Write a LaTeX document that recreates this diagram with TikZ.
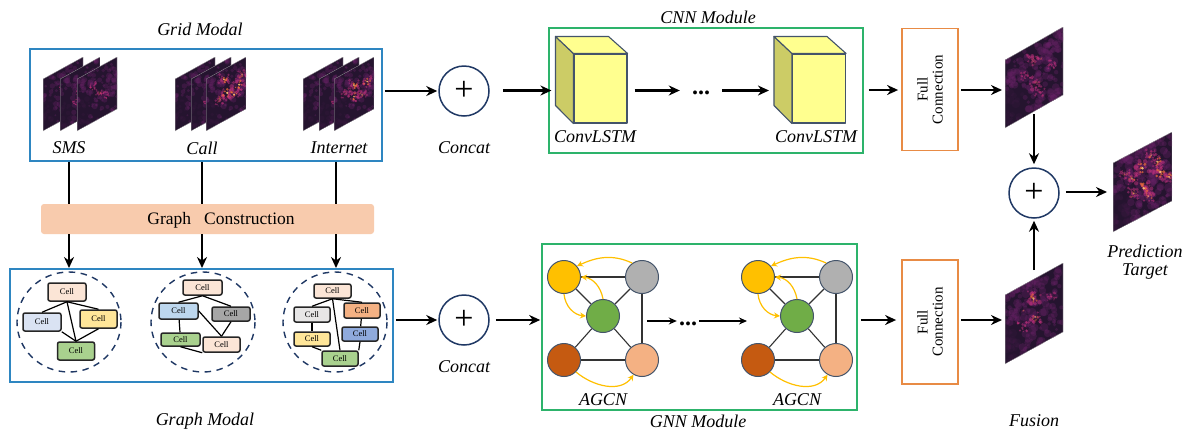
\documentclass[tikz,border=0pt]{standalone}
\usepackage{fontspec}
\usepackage{graphicx}
\setmainfont{Liberation Serif}
\usetikzlibrary{arrows.meta,calc}
\definecolor{blueb}{HTML}{2E86C1}
\definecolor{greenb}{HTML}{2DB36B}
\definecolor{orangeb}{HTML}{E88B45}
\definecolor{navy}{HTML}{1F3864}
\definecolor{slateb}{HTML}{44546A}
\definecolor{peach}{HTML}{FBE5D6}
\definecolor{ygold}{HTML}{FFC000}
\definecolor{hbase}{HTML}{25142F}
\definecolor{hmid}{HTML}{6A2268}
\definecolor{hhot}{HTML}{C0307C}
\definecolor{hfire}{HTML}{F0703A}
\definecolor{hcore}{HTML}{FCC873}
\definecolor{cubefront}{HTML}{FFFF8F}
\definecolor{cubeside}{HTML}{CCCC66}
\definecolor{ngreen}{HTML}{70AD47}
\definecolor{nbrown}{HTML}{C55A11}
\definecolor{npeach}{HTML}{F4B183}
\definecolor{ngrey}{HTML}{B0B0B0}
\definecolor{cblue}{HTML}{DAE3F3}
\definecolor{cblue2}{HTML}{BDD7EE}
\definecolor{cblue3}{HTML}{8FAADC}
\definecolor{cyel}{HTML}{FFE699}
\definecolor{cgrn}{HTML}{A9D18E}
\definecolor{cgry}{HTML}{A6A6A6}
\definecolor{cgry2}{HTML}{E7E6E6}
\definecolor{barfill}{HTML}{F8CBAD}
\tikzset{
  x=1pt,y=-1pt,
  lab/.style={font=\fontsize{18}{20}\selectfont\itshape,inner sep=0pt},
  arr/.style={line width=2.7pt,-{Stealth[length=11pt,width=10pt]}},
  plainline/.style={line width=2.7pt},
  thinarr/.style={line width=1.3pt,-{Stealth[length=8pt,width=7pt]}},
  modalbox/.style={draw=blueb,line width=1.6pt,inner sep=0pt},
  modbox/.style={draw=greenb,line width=1.6pt,inner sep=0pt},
  fcbox/.style={draw=orangeb,line width=1.8pt,inner sep=0pt,minimum width=56pt},
  fctext/.style={font=\fontsize{15}{18}\selectfont,inner sep=0pt},
  plusc/.style={draw=navy,line width=1.5pt,circle,minimum size=50pt,inner sep=0pt,font=\fontsize{34}{34}\selectfont},
  ring/.style={draw=navy,line width=1.4pt,dash pattern=on 6.5pt off 5.5pt},
  cellb/.style={draw=black!85,line width=1.5pt,rounded corners=2pt,inner sep=0pt,font=\fontsize{8.5}{9}\selectfont},
  edgeg/.style={draw=black,line width=1.2pt},
  cubef/.style={draw=slateb,line width=1.1pt,fill=#1,line join=round},
  gn/.style={draw=slateb,line width=1pt,circle,minimum size=33pt,inner sep=0pt,fill=#1},
  gedge/.style={draw=black!80,line width=1.1pt},
  yarr/.style={draw=ygold,line width=1.2pt,-{Stealth[length=6pt,width=6pt]}},
  dotsn/.style={font=\bfseries\fontsize{24}{24}\selectfont,inner sep=0pt},
}
% \heatmap{ox}{oy}{ux}{uy}{vy}{seed}{number of base blobs}{hot list s/t/r/f}
\newcommand{\heatmap}[8]{%
  \begin{scope}
    \clip (#1,#2) -- ++(#3,#4) -- ++(0,#5) -- ++(-#3,-#4) -- cycle;
    \fill[hbase] (#1,#2) -- ++(#3,#4) -- ++(0,#5) -- ++(-#3,-#4) -- cycle;
    \pgfmathsetseed{#6}
    \foreach \bi in {1,...,#7}{
      \pgfmathsetmacro{\blobS}{rnd}
      \pgfmathsetmacro{\blobT}{rnd}
      \pgfmathsetmacro{\blobR}{(1.5+3*rnd)*#3/58}
      \pgfmathsetmacro{\blobO}{(\blobS<0.3 && \blobT>0.45)?0.08:0.33}
      \fill[hmid,opacity=\blobO] ({#1+\blobS*#3},{#2+\blobS*#4+\blobT*#5}) circle (\blobR);
    }
    \foreach \hotS/\hotT/\hotR/\hotF in {#8}{
      \pgfmathsetmacro{\hotX}{#1+\hotS*#3}
      \pgfmathsetmacro{\hotY}{#2+\hotS*#4+\hotT*#5}
      \foreach \ki in {1,...,16}{
        \fill[hhot,opacity=.5] ({\hotX+(rnd-.5)*3.2*\hotR},{\hotY+(rnd-.5)*3.2*\hotR}) circle ({(.22+.3*rnd)*\hotR});
      }
      \foreach \ki in {1,...,7}{
        \fill[hfire,opacity={.7*\hotF}] ({\hotX+(rnd-.5)*1.9*\hotR},{\hotY+(rnd-.5)*1.9*\hotR}) circle ({(.15+.2*rnd)*\hotR});
      }
      \fill[hcore,opacity={.9*\hotF}] (\hotX,\hotY) circle ({.28*\hotR});
    }
    \draw[black!35,line width=.5pt] (#1,#2) -- ++(#3,#4) -- ++(0,#5) -- ++(-#3,-#4) -- cycle;
  \end{scope}
}
\newcommand{\heatstack}[4]{% x1,x2,x3,hot list for the front
  \heatmap{#1}{79}{40}{-22}{52}{11}{100}{.5/.4/2/0,.6/.6/2/0}
  \heatmap{#2}{79}{40}{-22}{52}{12}{100}{.5/.45/2/0,.4/.6/2/0}
  \heatmap{#3}{79}{40}{-22}{52}{13}{130}{#4}
}
\newcommand{\cube}[2]{% name, x
  \node[cubef=cubefront,minimum width=53pt,minimum height=69pt,inner sep=0pt] (#1) at (#2,88.5) {};
  \draw[cubef=cubeside] (#1.north west) -- ++(-18,-17) -- ++(0,69) -- (#1.south west) -- cycle;
  \draw[cubef=cubefront] (#1.north west) -- ++(-18,-17) -- ++(53,0) -- (#1.north east) -- cycle;
}
\newcommand{\gnnblock}[2]{% prefix, dx
  \node[gn=ygold] (#1y) at (564+#2,277) {};
  \node[gn=ngrey] (#1a) at (642+#2,277) {};
  \node[gn=ngreen] (#1g) at (603+#2,316) {};
  \node[gn=nbrown] (#1b) at (564+#2,360) {};
  \node[gn=npeach] (#1p) at (642+#2,360) {};
  \draw[gedge] (#1y) -- (#1a);
  \draw[gedge] (#1y) -- (#1g);
  \draw[gedge] (#1a) -- (#1g);
  \draw[gedge] (#1a) -- (#1p);
  \draw[gedge] (#1g) -- (#1b);
  \draw[gedge] (#1g) -- (#1p);
  \draw[gedge] (#1b) -- (#1p);
  \draw[yarr] (#1a.125) to[out=155,in=25] (#1y.40);
  \draw[yarr] (#1g.90) to[out=100,in=-5] (#1y.east);
  \draw[yarr] (#1y.-90) to[out=-85,in=175] (#1g.west);
  \draw[yarr] (#1b.-45) to[out=-40,in=-125] (#1p.-120);
}
\begin{document}
\begin{tikzpicture}
\useasboundingbox (0,0) rectangle (1189,432);
\fill[white] (0,0) rectangle (1189,432);

% titles
\node[lab] (tgrid) at (200,29) {Grid Modal};
\node[lab] (tgraph) at (205,421) {Graph Modal};
\node[lab] (tcnn) at (708,17) {CNN Module};
\node[lab] (tgnn) at (698,421) {GNN Module};
\node[lab] (tfus) at (1034,421) {Fusion};

% Grid modal
\node[modalbox,minimum width=352pt,minimum height=112pt] (grid) at (206,105) {};
\heatstack{43}{60}{77}{.55/.5/2/.4,.4/.3/2.5/0,.7/.6/2.5/0}
\heatstack{175}{191}{206}{.45/.2/3.5/1,.53/.49/4.5/1,.83/.46/4/1,.7/.59/3.5/1,.35/.55/3/.6,.9/.3/3/.6}
\heatstack{303}{319}{334}{.5/.33/3.5/1,.83/.4/3.5/.9,.5/.55/3.5/.8,.7/.6/3/.5,.3/.4/3/.2}
\node[lab] (sms) at (69,148) {SMS};
\node[lab] (call) at (202,148) {Call};
\node[lab] (inet) at (339,148) {Internet};

% Graph construction
\node[fill=barfill,rounded corners=3pt,minimum width=333pt,minimum height=30pt,inner sep=0pt] (gc) at (207.5,219) {};
\node[font=\fontsize{17.5}{18}\selectfont,inner sep=0pt] (gct) at (221,220) {Graph\ \ \ Construction};

% Graph modal
\node[modalbox,minimum width=383pt,minimum height=113pt] (gm) at (201.5,325.5) {};
\coordinate (ctA) at (69,322);
\coordinate (ctB) at (203,322);
\coordinate (ctC) at (335,322);
\draw[ring] (ctA) ellipse [x radius=52,y radius=50];
\draw[ring] (ctB) ellipse [x radius=52,y radius=50];
\draw[ring] (ctC) ellipse [x radius=52,y radius=50];

% cluster 1
\node[cellb,fill=peach,minimum width=38pt,minimum height=18pt] (a1) at (67,292) {Cell};
\node[cellb,fill=cblue,minimum width=38pt,minimum height=18pt] (a2) at (42,322) {Cell};
\node[cellb,fill=cyel,minimum width=37pt,minimum height=18pt] (a3) at (98.5,319) {Cell};
\node[cellb,fill=cgrn,minimum width=37pt,minimum height=18pt] (a4) at (76,351) {Cell};
\draw[edgeg] (a1.south) -- (a2.north);
\draw[edgeg] (a1.south) -- (a3.north);
\draw[edgeg] (a1.south) -- (a4.north);
\draw[edgeg] (a2.south east) -- (a4.north);
\draw[edgeg] (a3.south) -- (a4.north);

% cluster 2
\node[cellb,fill=peach,minimum width=39pt,minimum height=15pt] (b1) at (202.5,287.5) {Cell};
\node[cellb,fill=cblue2,minimum width=39pt,minimum height=16pt] (b2) at (178.5,311) {Cell};
\node[cellb,fill=cgry,minimum width=38pt,minimum height=14pt] (b3) at (231,314) {Cell};
\node[cellb,fill=cgrn,minimum width=39pt,minimum height=13pt] (b4) at (180.5,339.5) {Cell};
\node[cellb,fill=peach,minimum width=37pt,minimum height=15pt] (b5) at (221.5,344.5) {Cell};
\draw[edgeg] (b1.south) -- (b2.north);
\draw[edgeg] (b1.south) -- (b3.north);
\draw[edgeg] (b2) -- (b4);
\draw[edgeg] (b2.east) -- (b5.north);
\draw[edgeg] (b3.south) -- (b5.north);
\draw[edgeg] (b4.south) -- (b5.south west);

% cluster 3
\node[cellb,fill=peach,minimum width=37pt,minimum height=14pt] (c1) at (332.5,291) {Cell};
\node[cellb,fill=cgry2,minimum width=36pt,minimum height=15pt] (c2) at (312,314.5) {Cell};
\node[cellb,fill=npeach,minimum width=36pt,minimum height=15pt] (c3) at (362,310.5) {Cell};
\node[cellb,fill=cyel,minimum width=36pt,minimum height=14pt] (c4) at (312,339) {Cell};
\node[cellb,fill=cblue3,minimum width=36pt,minimum height=14pt] (c5) at (360,334) {Cell};
\node[cellb,fill=cgrn,minimum width=36pt,minimum height=15pt] (c6) at (340,358.5) {Cell};
\draw[edgeg] (c1.south) -- (c2.north);
\draw[edgeg] (c1.south) -- (c3.north);
\draw[edgeg] (c1.south) -- (c6.north);
\draw[edgeg] (c2) -- (c4);
\draw[edgeg] (c3) -- (c5);
\draw[edgeg] (c5.south) -- (c6.north east);
\draw[edgeg] (c4.south) -- (c6.north west);

% vertical links
\coordinate (gc1) at (69,204);  \coordinate (gc2) at (202,204);  \coordinate (gc3) at (336,204);
\coordinate (gb1) at (69,234);  \coordinate (gb2) at (202,234);  \coordinate (gb3) at (336,234);
\coordinate (gt1) at (69,268);  \coordinate (gt2) at (202,268);  \coordinate (gt3) at (336,268);
\draw[plainline] (grid.south -| gc1) -- (gc1);
\draw[plainline] (grid.south -| gc2) -- (gc2);
\draw[plainline] (grid.south -| gc3) -- (gc3);
\draw[arr] (gb1) -- (gt1);
\draw[arr] (gb2) -- (gt2);
\draw[arr] (gb3) -- (gt3);

% concat
\node[plusc] (p1) at (464,91) {+};
\node[plusc] (p2) at (464,320) {+};
\node[lab] (cc1) at (464,148) {Concat};
\node[lab] (cc2) at (464,367) {Concat};
\draw[arr,shorten <=2pt,shorten >=1pt] (grid.east |- p1) -- (p1);
\draw[arr,shorten <=2pt,shorten >=1pt] (gm.east |- p2) -- (p2);

% CNN
\node[modbox,minimum width=314pt,minimum height=125pt] (cnn) at (706,90.5) {};
\cube{cu1}{600.5}
\cube{cu2}{819}
\node[lab] (lc1) at (595,137) {ConvLSTM};
\node[lab] (lc2) at (816,137) {ConvLSTM};
\node[dotsn] (dc) at (701,93) {...};
\coordinate (cuw1) at ($(cu1.west)+(-18,2)$);
\coordinate (cuw2) at ($(cu2.west)+(-18,1.5)$);
\draw[arr,shorten <=13pt,shorten >=4pt] (p1.east |- cuw1) -- (cuw1);
\draw[arr,shorten <=7pt,shorten >=12pt] (cu1.east |- cuw1) -- (dc.west |- cuw1);
\draw[arr,shorten <=12pt,shorten >=5pt] (dc.east |- cuw1) -- (cuw2 |- cuw1);

% GNN
\node[modbox,minimum width=315pt,minimum height=166pt] (gnn) at (699.5,327) {};
\gnnblock{l}{0}
\gnnblock{r}{194}
\node[lab] (la1) at (603,400) {AGCN};
\node[lab] (la2) at (797,400) {AGCN};
\node[dotsn] (dg) at (688,324) {...};
\coordinate (tg1) at (647,321);
\coordinate (tg2) at (747,321);
\draw[thinarr,shorten >=2pt] (tg1) -- (dg.west |- tg1);
\draw[thinarr,shorten <=2pt] (dg.east |- tg1) -- (tg2);
\draw[arr,shorten <=3pt,shorten >=1pt] (p2.east) ++(3,0) coordinate (p2e) -- (gnn.west |- p2);

% Full connection
\node[fcbox,minimum height=122pt] (fc1) at (930,89.5) {};
\node[fcbox,minimum height=124pt] (fc2) at (930,322) {};
\node[fctext] (ft1) at (fc1) {\rotatebox{90}{\shortstack{Full\\[2pt]Connection}}};
\node[fctext] (ft2) at (fc2) {\rotatebox{90}{\shortstack{Full\\[2pt]Connection}}};
\coordinate (y1) at (0,90);
\coordinate (y2) at (0,320);
\draw[arr,shorten <=5pt,shorten >=3pt] (cnn.east |- y1) -- (fc1.west |- y1);
\draw[arr,shorten <=3pt,shorten >=5pt] (gnn.east |- y2) -- (fc2.west |- y2);

% Fusion
\heatmap{1005}{60}{58}{-33}{68}{21}{170}{.48/.25/4/.15,.54/.59/4.5/.1,.35/.4/3/0,.8/.45/3/0,.6/.75/3/0,.62/.28/.8/1}
\heatmap{1005}{295}{58}{-32}{69}{22}{170}{.49/.28/4.5/.8,.52/.56/4/.55,.32/.37/.8/1,.8/.4/3/0,.3/.6/3/0}
\heatmap{1113}{163}{59}{-31}{69}{23}{190}{.5/.3/5/1,.8/.49/5/1,.52/.6/5/1,.32/.37/3.5/.7,.95/.63/3.5/1,.75/.32/4/.9,.6/.75/3.5/.6,.35/.6/3.5/.5,.65/.18/3.5/.5,.2/.25/3/.3}
\coordinate (h1) at (1034,114);
\coordinate (h2) at (1034,270);
\coordinate (h3) at (1002,90);
\coordinate (h4) at (1002,320);
\node[plusc] (p3) at (1034,193) {+};
\coordinate (ht) at (1107,192);
\draw[arr,shorten >=3pt] (h1) -- (p3);
\draw[arr,shorten >=2pt] (h2) -- (p3);
\draw[arr,shorten <=6pt] (p3.east |- ht) -- (ht);
\draw[arr,shorten <=2pt] (fc1.east |- h3) -- (h3);
\draw[arr,shorten <=2pt] (fc2.east |- h4) -- (h4);
\node[lab] (pt1) at (1145,251) {Prediction};
\node[lab] (pt2) at (1145,272) {Target};
\end{tikzpicture}
\end{document}
